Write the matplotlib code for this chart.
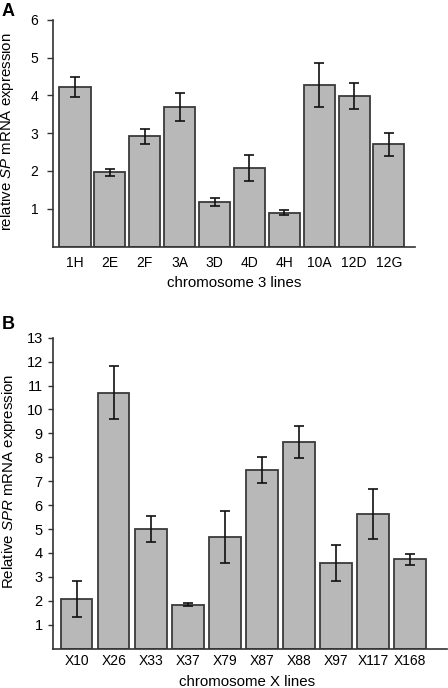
import numpy as np
import matplotlib.pyplot as plt

plt.rcParams['font.family'] = ['Liberation Sans', 'DejaVu Sans']
plt.rcParams['mathtext.fontset'] = 'custom'
plt.rcParams['mathtext.it'] = 'Liberation Sans:italic'
plt.rcParams['mathtext.rm'] = 'Liberation Sans'

# panel A: chromosome 3 lines
lines_a = ['1H', '2E', '2F', '3A', '3D', '4D', '4H', '10A', '12D', '12G']
mean_a = [4.23, 1.96, 2.92, 3.69, 1.18, 2.08, 0.90, 4.27, 3.98, 2.70]
err_a = [0.26, 0.09, 0.20, 0.36, 0.10, 0.35, 0.07, 0.59, 0.35, 0.30]

# panel B: chromosome X lines
lines_b = ['X10', 'X26', 'X33', 'X37', 'X79', 'X87', 'X88', 'X97', 'X117', 'X168']
mean_b = [2.07, 10.70, 5.00, 1.84, 4.67, 7.47, 8.63, 3.58, 5.62, 3.73]
err_b = [0.77, 1.10, 0.56, 0.07, 1.10, 0.55, 0.66, 0.76, 1.04, 0.23]

bar_col = '#b8b8b8'
edge_col = '#3a3a3a'

fig = plt.figure(figsize=(4.48, 6.88), dpi=100)
ax1 = fig.add_axes([0.1176, 0.6417, 0.809, 0.3295])
ax2 = fig.add_axes([0.1176, 0.0573, 0.88, 0.4518])


def draw(ax, names, means, errs, width, ylim, xlim, xpad, ylen, ypad, yfs):
    x = np.arange(len(names))
    ax.bar(x, means, width=width, color=bar_col, edgecolor=edge_col, linewidth=1.3, zorder=2)
    ax.errorbar(x, means, yerr=errs, fmt='none', ecolor='#111111', elinewidth=1.2,
                capsize=3.5, capthick=1.2, zorder=3)
    ax.set_xlim(*xlim)
    ax.set_ylim(*ylim)
    ax.set_xticks(x)
    ax.set_xticklabels(names, fontsize=10)
    ax.tick_params(axis='x', length=0, pad=xpad)
    ax.tick_params(axis='y', length=ylen, width=1, labelsize=yfs, pad=ypad, color='#333333')
    for s in ['top', 'right']:
        ax.spines[s].set_visible(False)
    for s in ['left', 'bottom']:
        ax.spines[s].set_linewidth(1.2)
        ax.spines[s].set_color('#333333')


draw(ax1, lines_a, mean_a, err_a, 0.89, (0, 6), (-0.64, 9.75), 7.0, 4.3, 6.0, 10)
ax1.set_yticks([1, 2, 3, 4, 5, 6])
ax1.set_ylabel(r'relative $\mathit{SP}$ mRNA expression', fontsize=10.8, va='center')
ax1.yaxis.set_label_coords(-0.1247, 0.508)
ax1.set_xlabel('chromosome 3 lines', fontsize=10.8, va='center')
ax1.xaxis.set_label_coords(0.5, -0.161)

draw(ax2, lines_b, mean_b, err_b, 0.85, (0, 13), (-0.65, 10.0), 3.8, 3.6, 3.5, 10.5)
ax2.set_yticks(range(1, 14))
ax2.set_ylabel(r'Relative $\mathit{SPR}$ mRNA expression', fontsize=10.8, va='center')
ax2.yaxis.set_label_coords(-0.111, 0.539)
ax2.set_xlabel('chromosome X lines', fontsize=10.8, va='center')
ax2.xaxis.set_label_coords(0.494, -0.1065)

fig.text(0.003, 0.9826, 'A', fontsize=13, fontweight='bold', va='center', ha='left')
fig.text(0.003, 0.529, 'B', fontsize=13, fontweight='bold', va='center', ha='left')

fig.savefig('out.png', dpi=100)
